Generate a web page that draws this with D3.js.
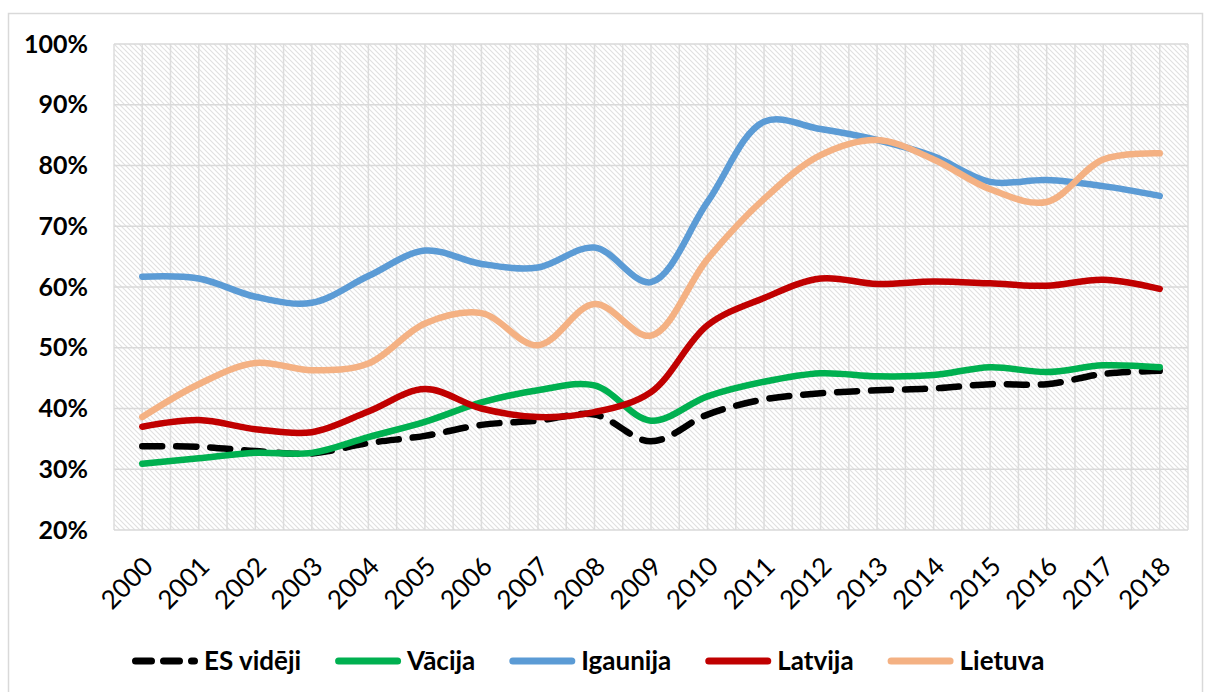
<!DOCTYPE html>
<html>
<head>
<meta charset="utf-8">
<script src="https://cdn.jsdelivr.net/npm/d3@7"></script>
<style>
  body { margin: 0; background: #fff; }
  text { font-family: Lato, "Open Sans", sans-serif; fill: #000; }
</style>
</head>
<body>
<script>
// dati
const years = ["2000","2001","2002","2003","2004","2005","2006","2007","2008","2009",
               "2010","2011","2012","2013","2014","2015","2016","2017","2018"];
const yTicks = [0.2, 0.3, 0.4, 0.5, 0.6, 0.7, 0.8, 0.9, 1.0];

const esVideji = [33.8, 33.7, 33.0, 32.6, 34.3, 35.5, 37.3, 38.0, 39.0, 34.6, 39.0, 41.5, 42.5, 43.0, 43.3, 44.0, 44.0, 45.7, 46.2];
const vacija   = [30.9, 31.8, 32.7, 32.7, 35.3, 37.8, 41.0, 43.0, 43.8, 38.0, 42.0, 44.4, 45.8, 45.3, 45.5, 46.8, 46.0, 47.1, 46.8];
const igaunija = [61.7, 61.4, 58.4, 57.4, 61.8, 66.0, 63.8, 63.2, 66.5, 60.8, 74.0, 87.2, 86.0, 84.2, 81.5, 77.3, 77.6, 76.6, 75.0];
const latvija  = [37.0, 38.1, 36.6, 36.1, 39.5, 43.2, 40.0, 38.6, 39.4, 42.7, 53.7, 58.2, 61.4, 60.5, 60.9, 60.6, 60.2, 61.2, 59.7];
const lietuva  = [38.6, 44.0, 47.5, 46.3, 47.4, 54.0, 55.7, 50.4, 57.2, 52.0, 64.6, 74.5, 81.7, 84.2, 81.0, 76.1, 74.0, 81.0, 82.0];

const series = [
  {name: "ES vidēji", values: esVideji, color: "#000000", dash: "20,14"},
  {name: "Vācija",    values: vacija,   color: "#00b050", dash: null},
  {name: "Igaunija",  values: igaunija, color: "#5b9bd5", dash: null},
  {name: "Latvija",   values: latvija,  color: "#c00000", dash: null},
  {name: "Lietuva",   values: lietuva,  color: "#f4b183", dash: null}
];

const width = 1205, height = 692;
const pLeft = 114, pRight = 1188, pTop = 44, pBottom = 530;

const svg = d3.select("body").append("svg")
  .attr("width", width).attr("height", height);

// rāmis
svg.append("rect")
  .attr("x", 8.5).attr("y", 13.5)
  .attr("width", 1194).attr("height", 700)
  .attr("fill", "#fff").attr("stroke", "#d9d9d9").attr("stroke-width", 1.5);

// svītrojuma raksts
const pat = svg.append("defs").append("pattern")
  .attr("id", "hatch").attr("patternUnits", "userSpaceOnUse")
  .attr("width", 5).attr("height", 5);
pat.append("rect").attr("width", 5).attr("height", 5).attr("fill", "#fff");
pat.append("path").attr("d", "M-1,-1 L6,6 M-1,4 L1,6 M4,-1 L6,1")
  .attr("stroke", "#e0e0e0").attr("stroke-width", 1.1);

const x = d3.scalePoint().domain(years).range([pLeft, pRight]).padding(0.5);
const step = x.step();
const y = d3.scaleLinear().domain([0.2, 1.0]).range([pBottom, pTop]);

svg.append("rect")
  .attr("x", pLeft).attr("y", pTop)
  .attr("width", pRight - pLeft).attr("height", pBottom - pTop)
  .attr("fill", "url(#hatch)");

// režģis
const vLines = d3.range(0, years.length * 2 + 1).map(i => pLeft + i * step / 2);
svg.append("g").selectAll("line").data(vLines).join("line")
  .attr("x1", d => d).attr("x2", d => d)
  .attr("y1", pTop).attr("y2", pBottom)
  .attr("stroke", "#dcdcdc").attr("stroke-width", 1.5);

svg.append("g").selectAll("line").data(yTicks).join("line")
  .attr("x1", pLeft).attr("x2", pRight)
  .attr("y1", d => y(d)).attr("y2", d => y(d))
  .attr("stroke", "#d9d9d9").attr("stroke-width", 1.5);

// asis
const yAxis = svg.append("g")
  .attr("transform", `translate(${pLeft},0)`)
  .call(d3.axisLeft(y).tickValues(yTicks).tickFormat(d3.format(".0%")).tickSize(0).tickPadding(26));
yAxis.select(".domain").remove();
yAxis.selectAll("text")
  .style("font-size", "25px").style("font-weight", "bold")
  .style("font-family", "Lato, sans-serif").attr("fill", "#000");

const xAxis = svg.append("g")
  .attr("transform", `translate(0,${pBottom})`)
  .call(d3.axisBottom(x).tickSize(0).tickPadding(0));
xAxis.select(".domain").remove();
xAxis.selectAll("text")
  .style("font-size", "26px").style("font-family", "Lato, sans-serif")
  .attr("fill", "#000")
  .attr("text-anchor", "end")
  .attr("dy", "0")
  .attr("transform", "translate(12,38) rotate(-45)");

// līnijas
const line = d3.line()
  .x((d, i) => x(years[i]))
  .y(d => y(d / 100))
  .curve(d3.curveCatmullRom.alpha(0.5));

svg.append("g").selectAll("path").data(series).join("path")
  .attr("d", d => line(d.values))
  .attr("fill", "none")
  .attr("stroke", d => d.color)
  .attr("stroke-width", 6.5)
  .attr("stroke-linecap", "round")
  .attr("stroke-linejoin", "round")
  .attr("stroke-dasharray", d => d.dash);

// leģenda
const legend = svg.append("g");
let lx = 132;
const ly = 661;
series.forEach(s => {
  legend.append("line")
    .attr("x1", lx + 3.5).attr("x2", lx + 62.5)
    .attr("y1", ly).attr("y2", ly)
    .attr("stroke", s.color).attr("stroke-width", 7)
    .attr("stroke-linecap", "round")
    .attr("stroke-dasharray", s.dash ? "16,12" : null);
  const t = legend.append("text")
    .attr("x", lx + 72).attr("y", ly)
    .attr("dy", "0.36em")
    .style("font-size", "26px").style("font-weight", "bold")
    .text(s.name);
  lx += 72 + t.node().getComputedTextLength() + 34;
});
</script>
</body>
</html>
